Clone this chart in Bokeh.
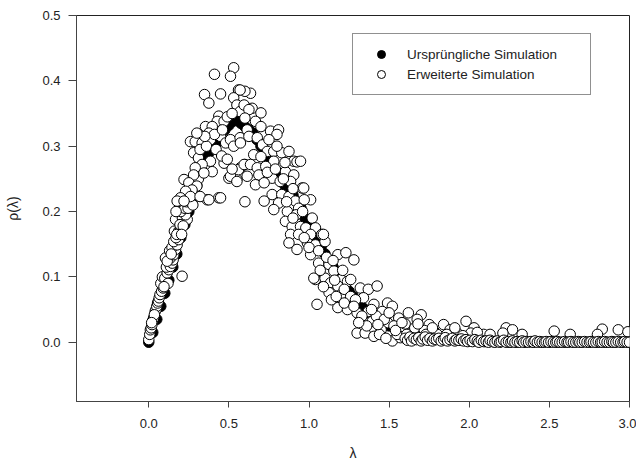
from bokeh.plotting import figure
from bokeh.models import (Range1d, FixedTicker, PrintfTickFormatter, ColumnDataSource,
                          Legend, LegendItem)
from bokeh.embed import file_html
from bokeh.resources import INLINE

# ---------------- data ----------------
# Original simulation (filled markers)
orig_x = [0.0, 0.025, 0.05, 0.075, 0.1, 0.125, 0.15, 0.175, 0.2, 0.225, 0.25, 0.275, 0.3, 0.325,
          0.35, 0.375, 0.4, 0.425, 0.45, 0.475, 0.5, 0.525, 0.55, 0.575, 0.6, 0.625, 0.65, 0.675,
          0.7, 0.725, 0.75, 0.775, 0.8, 0.825, 0.85, 0.875, 0.9, 0.925, 0.95, 0.975, 1.0, 1.025,
          1.05, 1.075, 1.1, 1.125, 1.15, 1.175, 1.2, 1.225, 1.25, 1.275, 1.3, 1.325, 1.35, 1.375,
          1.4, 1.425, 1.45, 1.475, 1.5, 1.55, 1.6, 1.65, 1.7, 1.75, 1.8, 1.85, 1.9, 1.95, 2.0,
          2.05, 2.1, 2.15, 2.2, 2.25, 2.3, 2.35, 2.4, 2.45, 2.5, 2.55, 2.6, 2.65, 2.7, 2.75, 2.8,
          2.85, 2.9, 2.95, 3.0]
orig_y = [0.0, 0.015, 0.035, 0.055, 0.075, 0.095, 0.115, 0.135, 0.16, 0.18, 0.2, 0.22, 0.24, 0.26,
          0.28, 0.29, 0.3, 0.305, 0.315, 0.325, 0.332, 0.338, 0.34, 0.335, 0.33, 0.325, 0.32, 0.31,
          0.3, 0.29, 0.28, 0.27, 0.26, 0.25, 0.24, 0.235, 0.225, 0.215, 0.205, 0.19, 0.18, 0.17,
          0.16, 0.145, 0.135, 0.125, 0.115, 0.105, 0.095, 0.085, 0.078, 0.07, 0.062, 0.056, 0.05,
          0.045, 0.04, 0.036, 0.032, 0.028, 0.025, 0.02, 0.016, 0.013, 0.01, 0.008, 0.006, 0.005,
          0.004, 0.003, 0.002, 0.002, 0.001, 0.001, 0.001, 0.0, 0.0, 0.0, 0.0, 0.0, 0.0, 0.0, 0.0,
          0.0, 0.0, 0.0, 0.0, 0.0, 0.0, 0.0, 0.0]

# Extended simulation (open markers), grouped by region
ext_rise = [(0.00, 0.004), (0.006, 0.012), (0.01, 0.019), (0.015, 0.022), (0.02, 0.027),
            (0.025, 0.033), (0.03, 0.037), (0.04, 0.047), (0.045, 0.05), (0.05, 0.055),
            (0.055, 0.06), (0.06, 0.063), (0.065, 0.068), (0.07, 0.073), (0.08, 0.078),
            (0.09, 0.083), (0.075, 0.09), (0.085, 0.1), (0.10, 0.098), (0.115, 0.106),
            (0.125, 0.111), (0.11, 0.115), (0.135, 0.116), (0.146, 0.121), (0.152, 0.126),
            (0.135, 0.129), (0.104, 0.129), (0.115, 0.124), (0.156, 0.134), (0.13, 0.14),
            (0.167, 0.142), (0.145, 0.145), (0.177, 0.149), (0.156, 0.154), (0.187, 0.157),
            (0.17, 0.16), (0.16, 0.17), (0.187, 0.17), (0.2, 0.175), (0.167, 0.188),
            (0.21, 0.19), (0.24, 0.188), (0.23, 0.195), (0.2, 0.2), (0.225, 0.205),
            (0.187, 0.216), (0.218, 0.218), (0.26, 0.223), (0.365, 0.218), (0.437, 0.221),
            (0.60, 0.215), (0.208, 0.101), (0.14, 0.135), (0.175, 0.165), (0.195, 0.18),
            (0.215, 0.178), (0.245, 0.205), (0.205, 0.165), (0.12, 0.09), (0.095, 0.085),
            (0.035, 0.042), (0.018, 0.03), (0.17, 0.2), (0.235, 0.215), (0.25, 0.23),
            (0.285, 0.24), (0.31, 0.25), (0.275, 0.21)]
ext_peak = [(0.53, 0.42), (0.51, 0.407), (0.41, 0.41), (0.448, 0.38), (0.348, 0.379),
            (0.375, 0.366), (0.56, 0.386), (0.53, 0.374), (0.55, 0.363), (0.57, 0.353),
            (0.437, 0.346), (0.427, 0.338), (0.47, 0.338), (0.354, 0.33), (0.396, 0.33),
            (0.375, 0.32), (0.26, 0.307), (0.29, 0.307), (0.333, 0.305), (0.385, 0.31),
            (0.448, 0.315), (0.48, 0.305), (0.51, 0.31), (0.53, 0.30), (0.57, 0.313),
            (0.614, 0.325), (0.28, 0.29), (0.31, 0.282), (0.385, 0.277), (0.47, 0.274),
            (0.333, 0.272), (0.29, 0.267), (0.396, 0.261), (0.344, 0.259), (0.28, 0.256),
            (0.572, 0.267), (0.60, 0.272), (0.50, 0.251), (0.55, 0.249), (0.22, 0.249),
            (0.25, 0.244), (0.30, 0.239), (0.27, 0.233), (0.23, 0.231), (0.198, 0.221),
            (0.26, 0.223), (0.32, 0.223), (0.177, 0.216), (0.22, 0.216), (0.375, 0.218),
            (0.448, 0.221), (0.51, 0.254), (0.55, 0.246), (0.56, 0.264), (0.32, 0.295),
            (0.36, 0.3), (0.41, 0.318), (0.46, 0.325), (0.49, 0.345), (0.52, 0.35),
            (0.42, 0.295), (0.455, 0.285), (0.49, 0.28), (0.52, 0.265), (0.35, 0.315),
            (0.3, 0.32)]
ext_fall = [(0.635, 0.381), (0.60, 0.384), (0.57, 0.386), (0.595, 0.363), (0.645, 0.358),
            (0.625, 0.356), (0.70, 0.351), (0.60, 0.343), (0.666, 0.338), (0.70, 0.33),
            (0.76, 0.323), (0.81, 0.325), (0.80, 0.318), (0.625, 0.315), (0.677, 0.313),
            (0.572, 0.305), (0.71, 0.302), (0.74, 0.292), (0.78, 0.292), (0.83, 0.29),
            (0.875, 0.292), (0.905, 0.277), (0.925, 0.276), (0.655, 0.287), (0.70, 0.284),
            (0.78, 0.277), (0.595, 0.272), (0.635, 0.272), (0.677, 0.267), (0.73, 0.269),
            (0.853, 0.261), (0.905, 0.256), (0.614, 0.254), (0.687, 0.256), (0.77, 0.251),
            (0.82, 0.246), (0.885, 0.246), (0.666, 0.241), (0.72, 0.244), (0.957, 0.236),
            (1.01, 0.218), (0.77, 0.226), (0.83, 0.226), (0.875, 0.223), (0.72, 0.216),
            (0.81, 0.213), (0.915, 0.216), (0.97, 0.218), (0.78, 0.203), (0.865, 0.20),
            (0.935, 0.205), (1.02, 0.19), (0.853, 0.185), (0.895, 0.177), (0.947, 0.177),
            (0.98, 0.175), (1.04, 0.175), (0.885, 0.165), (0.935, 0.165), (1.01, 0.165),
            (1.08, 0.165), (0.875, 0.152), (0.925, 0.142), (0.99, 0.152), (1.04, 0.149),
            (1.10, 0.154), (1.01, 0.134), (1.06, 0.121), (1.18, 0.134), (1.23, 0.137),
            (1.125, 0.119), (1.155, 0.109), (1.04, 0.096), (1.10, 0.098), (1.135, 0.091),
            (1.20, 0.096), (1.24, 0.093), (1.18, 0.086), (1.125, 0.076), (1.20, 0.073),
            (1.18, 0.053), (1.24, 0.05), (1.05, 0.058), (0.947, 0.277), (0.967, 0.236),
            (1.03, 0.098), (1.09, 0.165), (0.75, 0.31), (0.8, 0.3), (0.85, 0.275),
            (0.74, 0.26), (0.79, 0.265), (0.84, 0.25), (0.9, 0.235), (0.86, 0.215),
            (0.92, 0.195), (0.96, 0.2), (0.9, 0.19), (0.97, 0.16), (1.0, 0.145),
            (1.06, 0.14), (1.07, 0.11), (1.11, 0.13), (1.15, 0.125), (1.09, 0.085),
            (1.16, 0.095), (1.14, 0.065), (1.21, 0.11), (1.17, 0.07)]
ext_low = [(1.28, 0.126), (1.26, 0.096), (1.32, 0.083), (1.37, 0.081), (1.425, 0.086),
           (1.22, 0.081), (1.26, 0.07), (1.34, 0.068), (1.29, 0.065), (1.22, 0.06),
           (1.49, 0.06), (1.52, 0.055), (1.405, 0.058), (1.37, 0.047), (1.457, 0.047),
           (1.62, 0.045), (1.70, 0.042), (1.56, 0.037), (1.395, 0.032), (1.49, 0.03),
           (1.675, 0.035), (1.75, 0.027), (1.84, 0.027), (1.98, 0.032), (2.03, 0.022),
           (1.30, 0.014), (1.35, 0.014), (1.405, 0.009), (1.45, 0.019), (1.59, 0.019),
           (1.63, 0.014), (1.70, 0.009), (1.52, 0.002), (1.78, 0.017), (1.88, 0.019),
           (1.925, 0.014), (2.01, 0.014), (2.09, 0.012), (1.82, 0.007), (1.57, 0.007),
           (1.30, 0.045), (1.33, 0.04), (1.42, 0.04), (1.47, 0.035), (1.53, 0.025),
           (1.60, 0.028), (1.66, 0.022), (1.72, 0.018), (1.80, 0.012), (1.55, 0.012),
           (1.36, 0.025), (1.44, 0.012), (1.48, 0.006), (1.65, 0.005), (1.75, 0.004),
           (1.28, 0.055), (1.31, 0.03), (1.39, 0.05), (1.43, 0.027), (1.5, 0.045),
           (1.54, 0.018), (1.58, 0.03), (1.61, 0.012), (1.68, 0.028), (1.73, 0.012),
           (1.77, 0.022), (1.86, 0.012), (1.91, 0.022), (1.96, 0.01), (2.05, 0.015)]
ext_tail = [(2.23, 0.022), (2.27, 0.019), (2.53, 0.017), (2.63, 0.012), (2.83, 0.02),
            (2.93, 0.019), (2.99, 0.016), (2.13, 0.012), (2.33, 0.012), (2.80, 0.012),
            (2.21, 0.014), (1.60, 0.006), (1.615, 0.003), (1.63, 0.008), (1.64, 0.002),
            (1.655, 0.006), (1.67, 0.004), (1.685, 0.007), (1.70, 0.002), (1.71, 0.005),
            (1.725, 0.008), (1.74, 0.003), (1.755, 0.006), (1.77, 0.002), (1.78, 0.005),
            (1.795, 0.004), (1.81, 0.006), (1.825, 0.002), (1.84, 0.004), (1.85, 0.007),
            (1.865, 0.002), (1.88, 0.004), (1.895, 0.006), (1.91, 0.002), (1.92, 0.004),
            (1.935, 0.003), (1.95, 0.005), (1.965, 0.002), (1.98, 0.004), (1.99, 0.001),
            (2.005, 0.003), (2.02, 0.001), (2.035, 0.004), (2.05, 0.002), (2.06, 0.0),
            (2.075, 0.003), (2.09, 0.001), (2.105, 0.002), (2.12, 0.0), (2.13, 0.003),
            (2.145, 0.001), (2.16, 0.0), (2.175, 0.002), (2.19, 0.0), (2.20, 0.001),
            (2.215, 0.003), (2.23, 0.0), (2.245, 0.001), (2.26, 0.0), (2.27, 0.002),
            (2.285, 0.0), (2.30, 0.001), (2.315, 0.0), (2.33, 0.002), (2.34, 0.0),
            (2.355, 0.001), (2.37, 0.0), (2.385, 0.001), (2.40, 0.0), (2.41, 0.002),
            (2.425, 0.0), (2.44, 0.001), (2.455, 0.0), (2.47, 0.0), (2.48, 0.001),
            (2.495, 0.0), (2.51, 0.001), (2.525, 0.0), (2.54, 0.0), (2.55, 0.001),
            (2.565, 0.0), (2.58, 0.0), (2.595, 0.001), (2.61, 0.0), (2.62, 0.0),
            (2.635, 0.001), (2.65, 0.0), (2.665, 0.0), (2.68, 0.001), (2.69, 0.0),
            (2.705, 0.0), (2.72, 0.001), (2.735, 0.0), (2.75, 0.0), (2.76, 0.001),
            (2.775, 0.0), (2.79, 0.0), (2.805, 0.001), (2.82, 0.0), (2.83, 0.0),
            (2.845, 0.001), (2.86, 0.0), (2.875, 0.0), (2.89, 0.001), (2.90, 0.0),
            (2.915, 0.0), (2.93, 0.001), (2.945, 0.0), (2.96, 0.0), (2.97, 0.001),
            (2.985, 0.0), (3.0, 0.0)]

x_ticks = [0.0, 0.5, 1.0, 1.5, 2.0, 2.5, 3.0]
y_ticks = [0.0, 0.1, 0.2, 0.3, 0.4, 0.5]
label_orig = "Ursprüngliche Simulation"
label_ext = "Erweiterte Simulation"

# ---------------- figure ----------------
FONT = "Liberation Sans"
p = figure(width=636, height=465, output_backend="svg", toolbar_location=None,
           x_range=Range1d(-0.451, 3.0), y_range=Range1d(-0.0907, 0.5),
           min_border_left=76, min_border_right=7, min_border_top=15, min_border_bottom=64)
p.background_fill_color = "white"
p.border_fill_color = "white"
p.outline_line_color = "#222222"
p.outline_line_width = 1
p.xgrid.visible = False
p.ygrid.visible = False

ext_all = ext_rise + ext_peak + ext_fall + ext_low + ext_tail
src_orig = ColumnDataSource(dict(x=orig_x, y=orig_y))
src_ext = ColumnDataSource(dict(x=[pt[0] for pt in ext_all], y=[pt[1] for pt in ext_all]))

r_orig = p.scatter("x", "y", source=src_orig, marker="circle", size=10.5,
                   fill_color="black", line_color="black", line_width=1)
r_ext = p.scatter("x", "y", source=src_ext, marker="circle", size=10.5,
                  fill_color="white", line_color="black", line_width=1)

for ax in (p.xaxis[0], p.yaxis[0]):
    ax.axis_line_color = "#444444"
    ax.major_tick_line_color = "#444444"
    ax.minor_tick_line_color = None
    ax.major_tick_in = 0
    ax.major_label_text_font = FONT
    ax.major_label_text_font_size = "13px"
    ax.major_label_text_color = "#222222"
    ax.axis_label_text_font = FONT
    ax.axis_label_text_font_style = "normal"
    ax.axis_label_text_color = "#222222"
    ax.axis_label_text_font_size = "14px"

p.xaxis.ticker = FixedTicker(ticks=x_ticks)
p.yaxis.ticker = FixedTicker(ticks=y_ticks)
p.xaxis.formatter = PrintfTickFormatter(format="%.1f")
p.yaxis.formatter = PrintfTickFormatter(format="%.1f")
p.xaxis.major_tick_out = 6
p.yaxis.major_tick_out = 8
p.xaxis.major_label_standoff = 11
p.yaxis.major_label_standoff = 8
p.xaxis.axis_label = "λ"
p.yaxis.axis_label = "ρ(λ)"
p.xaxis.axis_label_standoff = 14
p.yaxis.axis_label_standoff = 18

legend = Legend(items=[LegendItem(label=label_orig, renderers=[r_orig]),
                       LegendItem(label=label_ext, renderers=[r_ext])],
                location=(276, 306), orientation="vertical")
legend.padding = 10
legend.spacing = 0
legend.margin = 0
legend.glyph_width = 36
legend.glyph_height = 20
legend.label_height = 20
legend.label_width = 173
legend.label_standoff = 8
legend.label_text_font = FONT
legend.label_text_font_size = "13.5px"
legend.label_text_color = "#222222"
legend.border_line_color = "#222222"
legend.border_line_width = 1
legend.background_fill_color = "white"
legend.background_fill_alpha = 1.0
p.add_layout(legend, "center")

open("out.html", "w").write(file_html(p, INLINE))
